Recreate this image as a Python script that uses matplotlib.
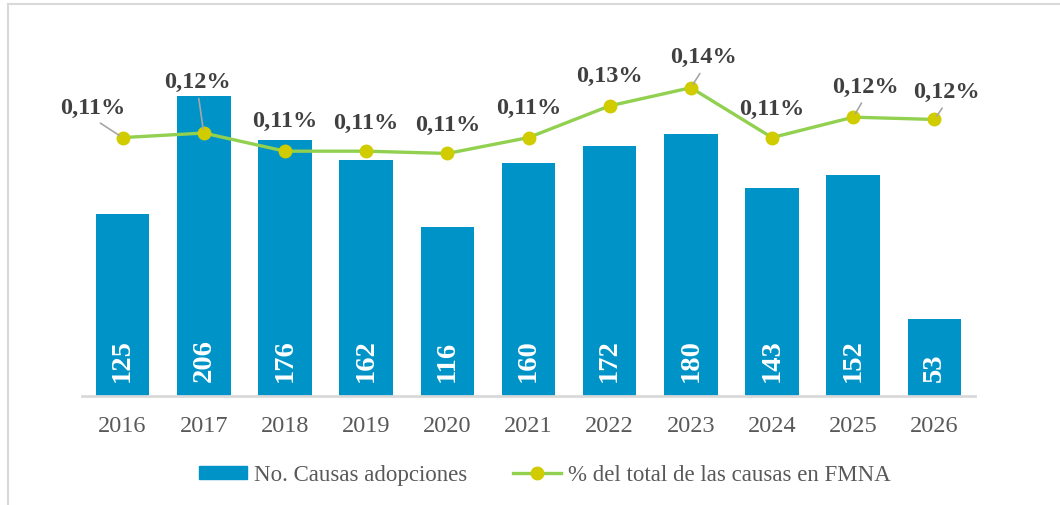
import matplotlib
matplotlib.use("Agg")
import matplotlib.pyplot as plt
from matplotlib.lines import Line2D
from matplotlib.patches import Patch

plt.rcParams['font.family'] = ['Liberation Serif', 'DejaVu Serif']

years = ["2016", "2017", "2018", "2019", "2020", "2021", "2022", "2023", "2024", "2025", "2026"]
causas = [125, 206, 176, 162, 116, 160, 172, 180, 143, 152, 53]
pct = [0.114, 0.116, 0.108, 0.108, 0.107, 0.114, 0.128, 0.136, 0.114, 0.123, 0.122]

# label offsets in pixels (dx, dy) and whether a leader line is drawn
lbl_off = [(-30, 30), (-6, 52), (0, 31), (0, 29), (0, 29), (0, 30),
           (0, 30), (13, 31), (0, 29), (12, 31), (12, 28)]
leader = [True, True, False, False, False, False, False, True, False, True, True]

bar_col = "#0093C7"
line_col = "#92D050"
mark_col = "#D0CC00"
grid_col = "#D9D9D9"

W, H = 1060, 506
fig = plt.figure(figsize=(W/100, H/100), dpi=100)
ax = fig.add_axes([82/W, 1-397/H, (975-82)/W, (397-30)/H])
ax2 = ax.twinx()

x = range(len(years))
ax.bar(x, causas, width=0.66, color=bar_col, zorder=2)
for i, v in enumerate(causas):
    ax.annotate(str(v), (i, 0), xytext=(0, 15), textcoords='offset pixels',
                rotation=90, ha='center', va='bottom', color='white',
                fontsize=20.5, fontweight='bold')

ax.set_xlim(-0.5, len(years)-0.5)
ax.set_ylim(0, 252)
ax.set_xticks(list(x))
ax.set_xticklabels(years, fontsize=17.5, color="#595959")
ax.tick_params(axis='x', length=0, pad=14)
ax.set_yticks([])
for s in ["top", "left", "right"]:
    ax.spines[s].set_visible(False)
ax.spines["bottom"].set_color(grid_col)
ax.spines["bottom"].set_linewidth(2)

ax2.plot(list(x), pct, color=line_col, lw=2.4, marker='o', markersize=9,
         markerfacecolor=mark_col, markeredgecolor=mark_col, zorder=3)
ax2.set_ylim(0, 0.1619)
ax2.set_yticks([])
for s in ax2.spines.values():
    s.set_visible(False)

for i, v in enumerate(pct):
    txt = f"{v:.2f}".replace(".", ",") + "%"
    dx, dy = lbl_off[i]
    kw = {}
    if leader[i]:
        kw["arrowprops"] = dict(arrowstyle='-', color='#A6A6A6', lw=1.2,
                                relpos=(0.5, 0), shrinkA=3, shrinkB=3)
    ax2.annotate(txt, (i, v), xytext=(dx, dy), textcoords='offset pixels',
                 ha='center', va='center', fontsize=17.5, fontweight='bold',
                 color="#404040", **kw)

handles = [Patch(color=bar_col),
           Line2D([], [], color=line_col, lw=2.4, marker='o', markersize=9,
                  markerfacecolor=mark_col, markeredgecolor=mark_col)]
fig.legend(handles, ["No. Causas adopciones", "% del total de las causas en FMNA"],
           loc='center', bbox_to_anchor=(545/W, 1-476/H), ncol=2, frameon=False,
           fontsize=16.5, handlelength=2.1, handleheight=0.5, handletextpad=0.3,
           columnspacing=2.0, labelcolor="#595959")

# chart frame
fig.add_artist(Line2D([8/W, 8/W], [0, 1-5/H], transform=fig.transFigure, color=grid_col, lw=1.5))
fig.add_artist(Line2D([8/W, 1], [1-5/H, 1-5/H], transform=fig.transFigure, color=grid_col, lw=1.5))

fig.savefig("out.png", dpi=100)
